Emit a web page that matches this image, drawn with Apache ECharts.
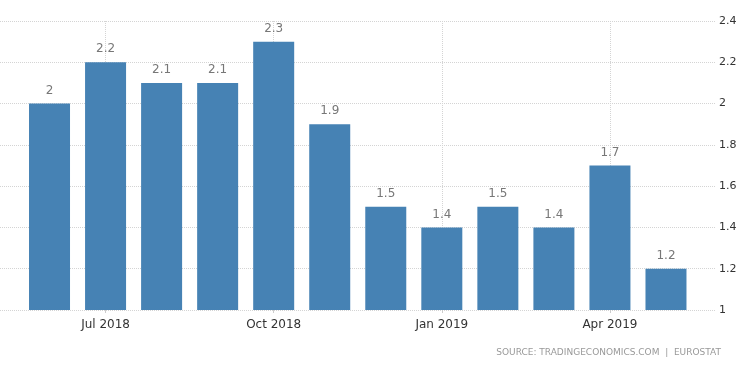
<!DOCTYPE html>
<html>
<head>
<meta charset="utf-8">
<script src="https://cdn.jsdelivr.net/npm/echarts@6/dist/echarts.min.js"></script>
<style>html,body{margin:0;padding:0;background:#fff}#c{width:750px;height:373px}</style>
</head>
<body>
<div id="c"></div>
<script>
var categories = ['Jun 2018','Jul 2018','Aug 2018','Sep 2018','Oct 2018','Nov 2018','Dec 2018','Jan 2019','Feb 2019','Mar 2019','Apr 2019','May 2019'];
var values = [2, 2.2, 2.1, 2.1, 2.3, 1.9, 1.5, 1.4, 1.5, 1.4, 1.7, 1.2];
var labeledMonths = ['Jul 2018','Oct 2018','Jan 2019','Apr 2019'];
var yTicks = {min: 1, max: 2.4, interval: 0.2};
var sourceText = 'SOURCE: TRADINGECONOMICS.COM  |  EUROSTAT';

var font = 'DejaVu Sans';
var showIdx = function (i) { return labeledMonths.indexOf(categories[i]) >= 0; };

var chart = echarts.init(document.getElementById('c'));
chart.setOption({
  animation: false,
  backgroundColor: '#fff',
  title: {
    text: sourceText, right: 24, bottom: 11,
    textStyle: {fontFamily: font, fontSize: 9, color: '#999', fontWeight: 'normal'}
  },
  grid: [
    {left: 0, right: 34, top: 21, bottom: 63},
    {left: 21.5, right: 56, top: 21, bottom: 63}
  ],
  xAxis: [
    {gridIndex: 0, type: 'value', min: 0, max: 1, show: false},
    {gridIndex: 1, type: 'category', data: categories,
     axisLine: {show: false},
     axisTick: {show: true, alignWithLabel: true, interval: function (i) { return showIdx(i); }, length: 3, lineStyle: {color: '#ccc'}},
     axisLabel: {interval: function (i) { return showIdx(i); }, fontFamily: font, fontSize: 12, color: '#333', margin: 9},
     splitLine: {show: false}}
  ],
  yAxis: [
    {gridIndex: 0, type: 'value', position: 'right', min: yTicks.min, max: yTicks.max, interval: yTicks.interval,
     axisLine: {show: false}, axisTick: {show: false},
     axisLabel: {fontFamily: font, fontSize: 11, color: '#333', margin: 3},
     splitLine: {show: true, lineStyle: {color: '#d4d4d4', type: 'dotted', width: 1}}},
    {gridIndex: 1, type: 'value', min: yTicks.min, max: yTicks.max, interval: yTicks.interval, show: false,
     splitLine: {show: false}}
  ],
  series: [{
    type: 'bar', xAxisIndex: 1, yAxisIndex: 1,
    data: values, barWidth: 41,
    itemStyle: {color: '#4682b4'},
    label: {show: true, position: 'top', distance: 7, fontFamily: font, fontSize: 12, color: '#777'},
    markLine: {
      silent: true, symbol: 'none', label: {show: false}, z: 1,
      lineStyle: {color: '#d4d4d4', type: 'dotted', width: 1},
      data: labeledMonths.map(function (m) { return {xAxis: m}; })
    },
    z: 3
  }]
});
</script>
</body>
</html>
